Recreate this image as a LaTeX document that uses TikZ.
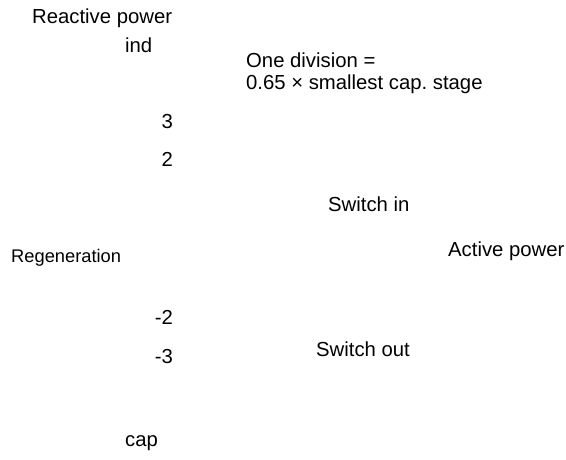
\documentclass[tikz,border=0pt]{standalone}
\usepackage{fontspec}
\setmainfont{Liberation Sans}
\usepackage{tikz}
\frenchspacing
\tikzset{
  label text/.style={
    inner sep=0pt, anchor=base west,
    font=\fontsize{20.3}{22}\selectfont,
  },
  axis num/.style={
    inner sep=0pt, anchor=base east,
    font=\fontsize{20.3}{22}\selectfont,
  },
  small text/.style={
    inner sep=0pt, anchor=base west,
    font=\fontsize{18.3}{22}\selectfont,
  },
}

\begin{document}
\begin{tikzpicture}[x=1pt, y=-1pt]

  \useasboundingbox (0,0) rectangle (566,459);

  \node[label text] (qaxis) at (32,23) {Reactive power};
  \node[label text] (ind) at (125,52) {ind};
  \node[label text, align=left] (division) at (246,89) {One division =\\0.65 × smallest cap. stage};
  \node[axis num] (p3) at (173,128) {3};
  \node[axis num] (p2) at (173,166) {2};
  \node[label text] (swin) at (328,211) {Switch in};
  \node[small text] (regen) at (11,262) {Regeneration};
  \node[label text] (paxis) at (448,256) {Active power};
  \node[axis num] (m2) at (173,324) {-2};
  \node[axis num] (m3) at (173,363) {-3};
  \node[label text] (swout) at (316,356) {Switch out};
  \node[label text] (cap) at (125,446) {cap};

\end{tikzpicture}
\end{document}
